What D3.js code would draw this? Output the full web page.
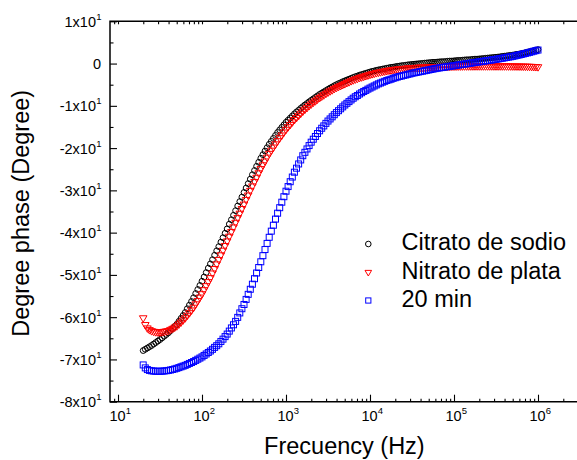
<!DOCTYPE html>
<html><head><meta charset="utf-8">
<script src="https://cdn.jsdelivr.net/npm/d3@7"></script>
<style>body{margin:0;background:#fff}svg{display:block}</style>
</head><body>
<svg id="chart" width="577" height="460"></svg>
<script>
// Frequencies (Hz)
const freqHz = [
19.95,21.13,22.39,23.71,25.12,26.61,28.18,29.85,31.62,33.5,35.48,37.58,39.81,42.17,44.67,47.32,50.12,53.09,56.23,59.57,63.1,66.83,70.79,74.99,79.43,84.14,89.13,94.41,
100,105.9,112.2,118.9,125.9,133.4,141.3,149.6,158.5,167.9,177.8,188.4,199.5,211.3,223.9,237.1,251.2,266.1,281.8,298.5,316.2,335,354.8,375.8,398.1,421.7,446.7,473.2,501.2,530.9,562.3,595.7,631,668.3,707.9,749.9,794.3,841.4,891.3,944.1,
1000,1059,1122,1189,1259,1334,1413,1496,1585,1679,1778,1884,1995,2113,2239,2371,2512,2661,2818,2985,3162,3350,3548,3758,3981,4217,4467,4732,5012,5309,5623,5957,6310,6683,7079,7499,7943,8414,8913,9441,
10000,10590,11220,11890,12590,13340,14130,14960,15850,16790,17780,18840,19950,21130,22390,23710,25120,26610,28180,29850,31620,33500,35480,37580,39810,42170,44670,47320,50120,53090,56230,59570,63100,66830,70790,74990,79430,84140,89130,94410,
100000,105900,112200,118900,125900,133400,141300,149600,158500,167900,177800,188400,199500,211300,223900,237100,251200,266100,281800,298500,316200,335000,354800,375800,398100,421700,446700,473200,501200,530900,562300,595700,631000,668300,707900,749900,794300,841400,891300,944100,
1000000];

// Phase (degree) — Citrato de sodio
const citrato = [
-67.9,-67.6,-67.3,-67.0,-66.7,-66.35,-66.0,-65.65,-65.3,-64.9,-64.5,-64.1,-63.7,-63.2,-62.7,-62.2,-61.7,-61.0,-60.3,-59.6,-58.9,-58.0,-57.15,-56.3,-55.4,-54.4,-53.45,-52.5,
-51.5,-50.5,-49.45,-48.4,-47.4,-46.4,-45.35,-44.3,-43.3,-42.25,-41.2,-40.15,-39.1,-38.0,-36.95,-35.9,-34.8,-33.7,-32.65,-31.6,-30.5,-29.45,-28.4,-27.35,-26.3,-25.3,-24.3,-23.35,-22.4,-21.55,-20.7,-19.9,-19.1,-18.4,-17.7,-17.0,-16.3,-15.7,-15.1,-14.5,
-13.9,-13.4,-12.9,-12.4,-11.9,-11.45,-11.05,-10.6,-10.2,-9.8,-9.45,-9.05,-8.7,-8.35,-8.0,-7.65,-7.3,-7.0,-6.7,-6.4,-6.1,-5.8,-5.55,-5.25,-5.0,-4.75,-4.55,-4.3,-4.1,-3.9,-3.7,-3.5,-3.3,-3.1,-2.95,-2.75,-2.6,-2.45,-2.3,-2.15,
-2.0,-1.85,-1.75,-1.6,-1.5,-1.4,-1.3,-1.2,-1.1,-1.0,-0.9,-0.85,-0.75,-0.65,-0.6,-0.5,-0.45,-0.4,-0.3,-0.25,-0.2,-0.15,-0.1,-0.05,0.0,0.05,0.1,0.15,0.2,0.25,0.3,0.3,0.35,0.4,0.45,0.45,0.5,0.55,0.6,0.6,
0.65,0.7,0.75,0.75,0.8,0.85,0.9,0.9,0.95,1.0,1.05,1.05,1.1,1.15,1.2,1.25,1.3,1.35,1.4,1.45,1.5,1.55,1.6,1.7,1.75,1.8,1.9,1.95,2.0,2.1,2.2,2.25,2.35,2.45,2.55,2.7,2.8,2.9,3.05,3.15,
3.3];

// Phase (degree) — Nitrato de plata
const nitrato = [
-60.3,-61.9,-62.7,-63.1,-63.35,-63.5,-63.6,-63.65,-63.65,-63.6,-63.5,-63.4,-63.3,-63.05,-62.8,-62.5,-62.2,-61.75,-61.3,-60.8,-60.3,-59.7,-59.1,-58.45,-57.8,-57.0,-56.2,-55.4,
-54.6,-53.65,-52.7,-51.75,-50.8,-49.7,-48.65,-47.55,-46.5,-45.4,-44.3,-43.2,-42.1,-41.0,-39.9,-38.8,-37.7,-36.6,-35.55,-34.45,-33.4,-32.3,-31.25,-30.15,-29.1,-28.05,-27.05,-26.0,-25.0,-24.1,-23.2,-22.3,-21.4,-20.65,-19.9,-19.15,-18.4,-17.7,-17.05,-16.35,
-15.7,-15.1,-14.55,-13.95,-13.4,-12.9,-12.4,-11.9,-11.4,-10.95,-10.55,-10.1,-9.7,-9.3,-8.95,-8.55,-8.2,-7.85,-7.55,-7.2,-6.9,-6.6,-6.35,-6.05,-5.8,-5.55,-5.35,-5.1,-4.9,-4.65,-4.45,-4.2,-4.0,-3.8,-3.65,-3.45,-3.3,-3.15,-3.0,-2.85,
-2.7,-2.55,-2.45,-2.3,-2.2,-2.1,-2.0,-1.9,-1.8,-1.7,-1.65,-1.55,-1.5,-1.45,-1.4,-1.35,-1.3,-1.25,-1.2,-1.15,-1.1,-1.08,-1.05,-1.03,-1.0,-0.98,-0.95,-0.93,-0.9,-0.89,-0.88,-0.86,-0.85,-0.84,-0.83,-0.81,-0.8,-0.79,-0.78,-0.76,
-0.75,-0.74,-0.73,-0.72,-0.71,-0.7,-0.7,-0.7,-0.7,-0.7,-0.69,-0.69,-0.69,-0.69,-0.69,-0.69,-0.69,-0.69,-0.69,-0.7,-0.7,-0.7,-0.7,-0.7,-0.7,-0.7,-0.71,-0.71,-0.72,-0.72,-0.73,-0.74,-0.75,-0.76,-0.77,-0.79,-0.8,-0.82,-0.85,-0.87,
-0.9];

// Phase (degree) — 20 min
const min20 = [
-71.3,-72.0,-72.4,-72.6,-72.7,-72.75,-72.8,-72.8,-72.8,-72.78,-72.73,-72.67,-72.6,-72.5,-72.38,-72.25,-72.1,-71.93,-71.75,-71.58,-71.4,-71.18,-70.95,-70.73,-70.5,-70.23,-69.95,-69.68,
-69.4,-69.05,-68.7,-68.35,-68.0,-67.6,-67.15,-66.75,-66.3,-65.75,-65.2,-64.6,-64.0,-63.3,-62.55,-61.8,-61.0,-60.05,-59.0,-58.0,-57.0,-55.8,-54.6,-53.4,-52.2,-50.9,-49.55,-48.25,-46.9,-45.45,-44.0,-42.55,-41.1,-39.65,-38.25,-36.8,-35.4,-34.1,-32.8,-31.5,
-30.2,-29.1,-27.95,-26.85,-25.7,-24.75,-23.75,-22.8,-21.8,-21.0,-20.2,-19.4,-18.6,-17.9,-17.25,-16.55,-15.9,-15.3,-14.75,-14.15,-13.6,-13.1,-12.6,-12.1,-11.6,-11.15,-10.7,-10.25,-9.8,-9.4,-9.0,-8.6,-8.2,-7.85,-7.55,-7.2,-6.9,-6.6,-6.35,-6.05,
-5.8,-5.55,-5.3,-5.05,-4.8,-4.6,-4.4,-4.2,-4.0,-3.85,-3.7,-3.5,-3.35,-3.2,-3.05,-2.95,-2.8,-2.7,-2.55,-2.45,-2.3,-2.2,-2.1,-2.0,-1.9,-1.8,-1.7,-1.6,-1.5,-1.4,-1.3,-1.2,-1.1,-1.03,-0.95,-0.88,-0.8,-0.73,-0.65,-0.58,
-0.5,-0.43,-0.35,-0.28,-0.2,-0.13,-0.05,0.03,0.1,0.18,0.25,0.33,0.4,0.48,0.55,0.63,0.7,0.78,0.85,0.93,1.0,1.09,1.18,1.26,1.35,1.44,1.53,1.61,1.7,1.81,1.93,2.04,2.15,2.28,2.4,2.53,2.65,2.79,2.93,3.06,
3.2];

const seriesNames = ["Citrato de sodio", "Nitrato de plata", "20 min"];
const yTicks = [10, 0, -10, -20, -30, -40, -50, -60, -70, -80];
const yTickBase = ["1x10", "0", "-1x10", "-2x10", "-3x10", "-4x10", "-5x10", "-6x10", "-7x10", "-8x10"];
const yTickExp = ["1", "", "1", "1", "1", "1", "1", "1", "1", "1"];
const xTicks = [10, 100, 1000, 10000, 100000, 1000000];
const xTickExp = ["1", "2", "3", "4", "5", "6"];
const xTitle = "Frecuency (Hz)";
const yTitle = "Degree phase (Degree)";

const font = "'Liberation Sans', Arial, Helvetica, sans-serif";
const svg = d3.select("#chart");
const xLeft = 110, xRight = 577, yTop = 21.3, yBot = 401.7;
const x = d3.scaleLog().domain([10, 1e6]).range([118, 538]);
const y = d3.scaleLinear().domain([10, -80]).range([yTop, yBot]);

// minor x tick positions (2..9 per decade) inside the frame
const xMinor = [];
for (let k = 0; k <= 6; k++) for (let m = 2; m <= 9; m++) {
  const v = m * Math.pow(10, k);
  const px = x(v);
  if (px > xLeft + 0.5 && px < xRight) xMinor.push(v);
}
const yMinor = yTicks.slice(0, -1).map(v => v - 5);

function styleAxis(g) {
  g.select(".domain").remove();
  g.selectAll("line").attr("stroke", "#000").attr("stroke-width", 1.1);
}
// bottom axis ticks (inward)
svg.append("g").attr("transform", `translate(0,${yBot})`)
  .call(d3.axisBottom(x).tickValues(xTicks).tickSize(-7).tickFormat("")).call(styleAxis);
svg.append("g").attr("transform", `translate(0,${yBot})`)
  .call(d3.axisBottom(x).tickValues(xMinor).tickSize(-3).tickFormat("")).call(styleAxis);
// top axis ticks (inward)
svg.append("g").attr("transform", `translate(0,${yTop})`)
  .call(d3.axisTop(x).tickValues(xMinor.concat(xTicks)).tickSize(-3).tickFormat("")).call(styleAxis);
// left axis ticks (inward)
svg.append("g").attr("transform", `translate(${xLeft},0)`)
  .call(d3.axisLeft(y).tickValues(yTicks).tickSize(-7).tickFormat("")).call(styleAxis);
svg.append("g").attr("transform", `translate(${xLeft},0)`)
  .call(d3.axisLeft(y).tickValues(yMinor).tickSize(-3.5).tickFormat("")).call(styleAxis);

// frame lines (left, top, bottom)
const frame = svg.append("g").attr("stroke", "#000").attr("stroke-width", 1.5).attr("fill", "none");
frame.append("path").attr("d", `M${xRight},${yTop}H${xLeft}V${yBot}H${xRight}`);

// y tick labels
const yl = svg.append("g").attr("font-family", font).attr("fill", "#000");
yTicks.forEach((v, i) => {
  yl.append("text").attr("x", yTickExp[i] ? 96 : 101).attr("y", y(v) + 5.5)
    .attr("text-anchor", "end").attr("font-size", 14.5).text(yTickBase[i]);
  if (yTickExp[i]) {
    yl.append("text").attr("x", 96.3).attr("y", y(v) - 1.5).attr("font-size", 9.5)
      .attr("text-anchor", "start").text(yTickExp[i]);
  }
});
// x tick labels
const xl = svg.append("g").attr("font-family", font).attr("fill", "#000");
xTicks.forEach((v, i) => {
  xl.append("text").attr("x", x(v) - 0.5).attr("y", 421).attr("text-anchor", "middle")
    .attr("font-size", 14.5).text("10");
  xl.append("text").attr("x", x(v) + 7.8).attr("y", 414).attr("font-size", 9.5)
    .attr("text-anchor", "start").text(xTickExp[i]);
});

// axis titles
svg.append("text").attr("x", 344.4).attr("y", 454).attr("text-anchor", "middle")
  .attr("font-family", font).attr("font-size", 23.5).text(xTitle);
svg.append("text").attr("transform", `translate(28.5,213.3) rotate(-90)`).attr("text-anchor", "middle")
  .attr("font-family", font).attr("font-size", 23.5).text(yTitle);

// markers
const tri = (s) => `M${-s},${-s * 0.7}L${s},${-s * 0.7}L0,${s}Z`;
function drawCircles(g, vals, color, r) {
  g.selectAll("circle").data(vals.slice(0, freqHz.length)).join("circle")
    .attr("cx", (d, i) => x(freqHz[i])).attr("cy", d => y(d)).attr("r", r)
    .attr("fill", "none").attr("stroke", color).attr("stroke-width", 1);
}
function drawTris(g, vals, color, s) {
  g.selectAll("path").data(vals.slice(0, freqHz.length)).join("path")
    .attr("d", tri(s)).attr("transform", (d, i) => `translate(${x(freqHz[i])},${y(d)})`)
    .attr("fill", "none").attr("stroke", color).attr("stroke-width", 1);
}
function drawSquares(g, vals, color, s) {
  g.selectAll("rect").data(vals.slice(0, freqHz.length)).join("rect")
    .attr("x", (d, i) => x(freqHz[i]) - s / 2).attr("y", d => y(d) - s / 2)
    .attr("width", s).attr("height", s)
    .attr("fill", "none").attr("stroke", color).attr("stroke-width", 1);
}
drawCircles(svg.append("g"), citrato, "#000000", 2.9);
drawTris(svg.append("g"), nitrato, "#ff0000", 3.8);
drawSquares(svg.append("g"), min20, "#0000ff", 6);

// legend
const lg = svg.append("g");
const legY = [244, 272.7, 300.5];
lg.append("circle").attr("cx", 368.3).attr("cy", legY[0]).attr("r", 2.8)
  .attr("fill", "none").attr("stroke", "#000").attr("stroke-width", 1);
lg.append("path").attr("d", tri(3.3)).attr("transform", `translate(368.3,${legY[1]})`)
  .attr("fill", "none").attr("stroke", "#ff0000").attr("stroke-width", 1);
lg.append("rect").attr("x", 368.3 - 2.6).attr("y", legY[2] - 2.6).attr("width", 5.2).attr("height", 5.2)
  .attr("fill", "none").attr("stroke", "#0000ff").attr("stroke-width", 1);
seriesNames.forEach((n, i) => {
  lg.append("text").attr("x", 401.5).attr("y", legY[i] + 6.2).attr("font-family", font)
    .attr("font-size", 23.5).attr("fill", "#000").text(n);
});
</script>
</body></html>
